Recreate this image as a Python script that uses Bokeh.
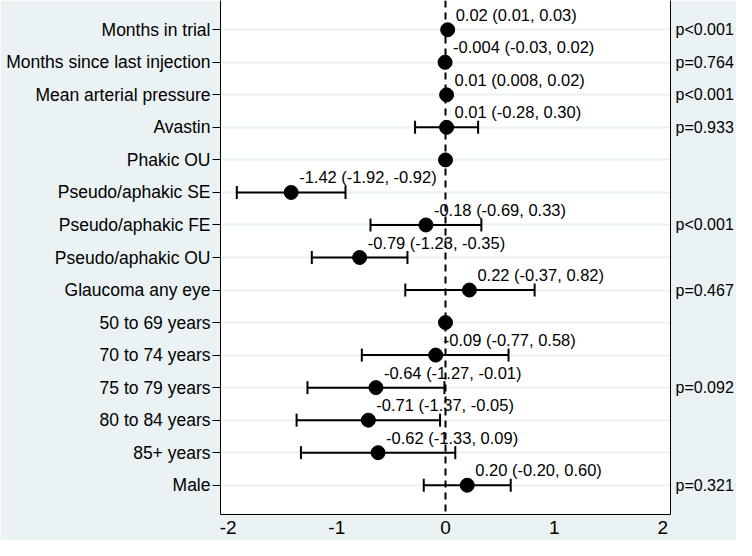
from bokeh.plotting import figure
from bokeh.models import (ColumnDataSource, Range1d, FixedTicker, LinearAxis,
                          Span, Whisker, TeeHead)
from bokeh.core.properties import value
from bokeh.embed import file_html
from bokeh.resources import INLINE

# ---- data ----
categories = ["Months in trial", "Months since last injection", "Mean arterial pressure",
              "Avastin", "Phakic OU", "Pseudo/aphakic SE", "Pseudo/aphakic FE",
              "Pseudo/aphakic OU", "Glaucoma any eye", "50 to 69 years",
              "70 to 74 years", "75 to 79 years", "80 to 84 years", "85+ years", "Male"]
estimates = [0.02, -0.004, 0.01, 0.01, 0.0, -1.42, -0.18, -0.79, 0.22, 0.0,
             -0.09, -0.64, -0.71, -0.62, 0.20]
lower_ci = [0.01, -0.03, 0.008, -0.28, 0.0, -1.92, -0.69, -1.23, -0.37, 0.0,
            -0.77, -1.27, -1.37, -1.33, -0.20]
upper_ci = [0.03, 0.02, 0.02, 0.30, 0.0, -0.92, 0.33, -0.35, 0.82, 0.0,
            0.58, -0.01, -0.05, 0.09, 0.60]
value_labels = ["0.02 (0.01, 0.03)", "-0.004 (-0.03, 0.02)", "0.01 (0.008, 0.02)",
                "0.01 (-0.28, 0.30)", "", "-1.42 (-1.92, -0.92)", "-0.18 (-0.69, 0.33)",
                "-0.79 (-1.23, -0.35)", "0.22 (-0.37, 0.82)", "", "-0.09 (-0.77, 0.58)",
                "-0.64 (-1.27, -0.01)", "-0.71 (-1.37, -0.05)", "-0.62 (-1.33, 0.09)",
                "0.20 (-0.20, 0.60)"]
p_value_rows = ["Months in trial", "Months since last injection", "Mean arterial pressure",
                "Avastin", "Pseudo/aphakic FE", "Glaucoma any eye", "75 to 79 years", "Male"]
p_values = ["p<0.001", "p=0.764", "p<0.001", "p=0.933", "p<0.001", "p=0.467",
            "p=0.092", "p=0.321"]
x_ticks = [-2, -1, 0, 1, 2]
x_tick_labels = ["-2", "-1", "0", "1", "2"]

FONT = "Liberation Sans"
BG = "#eaf2f3"

rows = list(range(1, len(categories) + 1))
src = ColumnDataSource(dict(y=rows, est=estimates, lo=lower_ci, hi=upper_ci,
                            lab=value_labels))

p = figure(width=736, height=540, output_backend="svg", toolbar_location=None,
           x_range=Range1d(-2.07, 2.07), y_range=Range1d(len(categories) + 0.9, 0.1),
           y_axis_location="left", min_border_left=220, min_border_right=64,
           min_border_top=0, min_border_bottom=26)
p.border_fill_color = BG
p.background_fill_color = "white"
p.outline_line_color = None

# grid
p.xgrid.grid_line_color = None
p.ygrid.ticker = FixedTicker(ticks=rows)
p.ygrid.grid_line_color = BG
p.ygrid.grid_line_width = 2

# left axis with category labels
ya = p.yaxis[0]
ya.ticker = FixedTicker(ticks=rows)
ya.major_label_overrides = {r: c for r, c in zip(rows, categories)}
ya.major_label_text_font = FONT
ya.major_label_text_font_size = "17.5px"
ya.major_label_text_color = "black"
ya.major_tick_out = 8
ya.major_tick_in = 0
ya.minor_tick_line_color = None
ya.major_label_standoff = 2
ya.axis_line_color = "black"

# bottom axis
xa = p.xaxis[0]
xa.ticker = FixedTicker(ticks=x_ticks)
xa.major_label_overrides = {t: l for t, l in zip(x_ticks, x_tick_labels)}
xa.major_label_text_font = FONT
xa.major_label_text_font_size = "19px"
xa.major_label_text_color = "black"
xa.major_tick_out = 0
xa.major_tick_in = 0
xa.minor_tick_line_color = None
xa.major_label_standoff = 6
xa.axis_line_color = "black"

# right axis with p-values
p_rows = [rows[categories.index(c)] for c in p_value_rows]
ra = LinearAxis(ticker=FixedTicker(ticks=p_rows),
                major_label_overrides={r: t for r, t in zip(p_rows, p_values)})
ra.major_label_text_font = FONT
ra.major_label_text_font_size = "16px"
ra.major_label_text_color = "black"
ra.major_tick_out = 0
ra.major_tick_in = 0
ra.minor_tick_line_color = None
ra.major_label_standoff = 5
ra.axis_line_color = "black"
p.add_layout(ra, "right")

# error bars
wh = Whisker(source=src, base="y", lower="lo", upper="hi", dimension="width",
             line_color="black", line_width=2,
             lower_head=TeeHead(size=13, line_width=2, line_color="black"),
             upper_head=TeeHead(size=13, line_width=2, line_color="black"),
             level="glyph")
p.add_layout(wh)

# points
p.scatter("est", "y", source=src, size=14, fill_color="black", line_color="black")

# zero reference line
p.add_layout(Span(location=0, dimension="height", line_color="black",
                  line_width=2, line_dash="7 5"))

# value labels
p.text("est", "y", text="lab", source=src, x_offset=8, y_offset=-15,
       text_baseline="middle", text_align="left", text_font=value(FONT),
       text_font_size="16.5px", text_color="black")

open("out.html", "w").write(file_html(p, INLINE))
